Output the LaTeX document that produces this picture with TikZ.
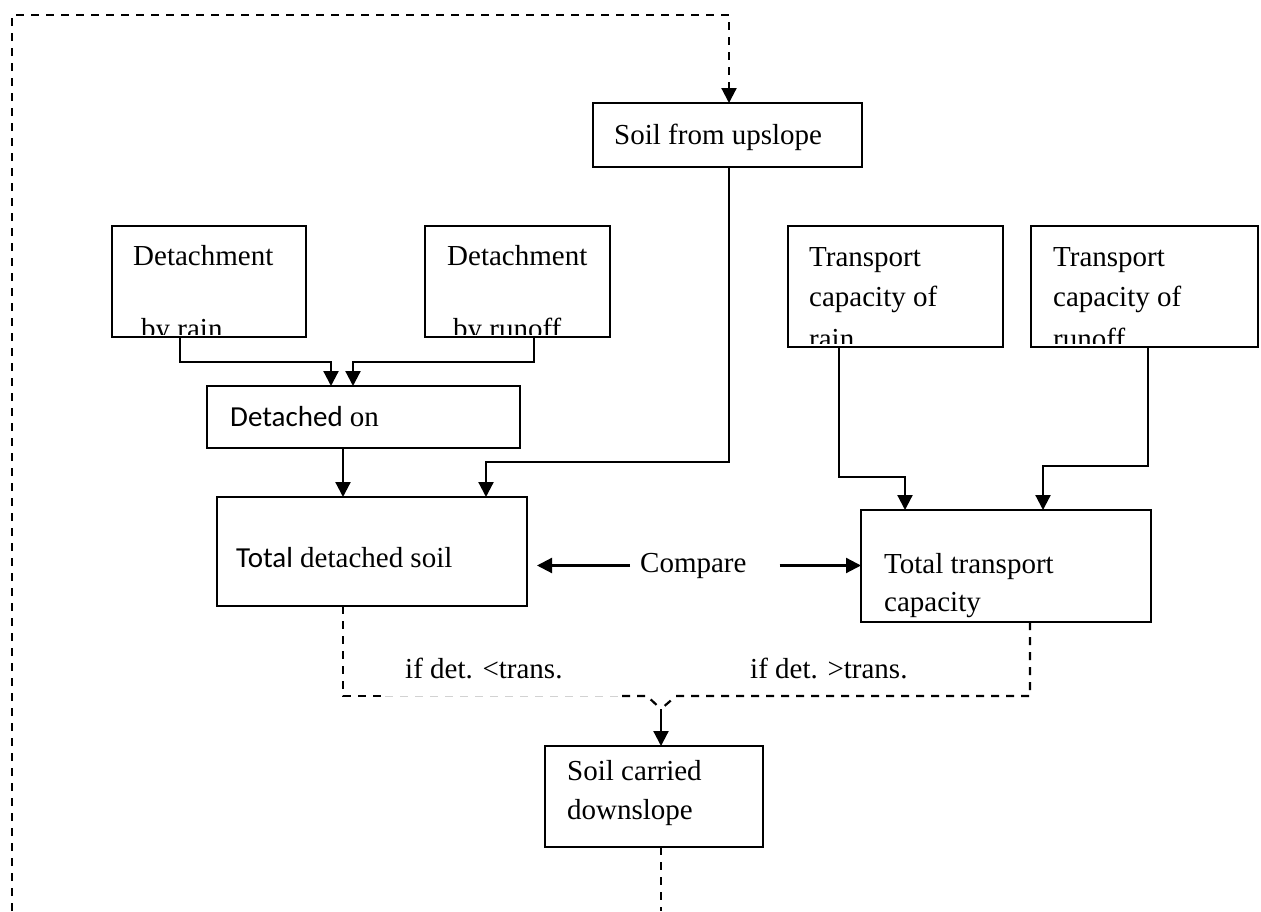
\documentclass[tikz,border=0pt]{standalone}
\usepackage{fontspec}
\setmainfont{Liberation Serif}
\newfontfamily\calib{Carlito}
\usetikzlibrary{arrows.meta,calc}
\tikzset{blk/.style = {draw, line width=2.2pt, outer sep=0pt, inner sep=0pt, anchor=north west},
  txt/.style = {inner sep=0pt, anchor=base west},
  arr/.style = {line width=2.2pt, -{Triangle[length=15pt,width=15pt]}},
  dsh/.style = {line width=2.2pt, dash pattern=on 8pt off 7pt}}

\begin{document}
\begin{tikzpicture}[x=1pt, y=-1pt, font=\fontsize{29}{35}\selectfont]
  \useasboundingbox (0,0) rectangle (1261,911);
  % boxes
  \node [blk, minimum width=269pt, minimum height=64pt] (up) at (593,103) {};
  \node [blk, minimum width=194pt, minimum height=111pt] (dr) at (112,226) {};
  \node [blk, minimum width=185pt, minimum height=111pt] (dro) at (425,226) {};
  \node [blk, minimum width=313pt, minimum height=62pt] (don) at (207,386) {};
  \node [blk, minimum width=310pt, minimum height=109pt] (tds) at (217,497) {};
  \node [blk, minimum width=215pt, minimum height=121pt] (trn) at (788,226) {};
  \node [blk, minimum width=227pt, minimum height=121pt] (tro) at (1031,226) {};
  \node [blk, minimum width=290pt, minimum height=112pt] (ttc) at (861,510) {};
  \node [blk, minimum width=218pt, minimum height=101pt] (scd) at (545,746) {};
  % texts
  \node [txt] (upt) at (614,144) {Soil from upslope};
  \node [txt] (dr1) at (133,265) {Detachment};
  \node [txt] (dro1) at (447,265) {Detachment};
  \begin{scope}
    \clip (dr.north west) rectangle ([yshift=3pt]dr.south east);
    \node [txt] (dr2) at (141,338) {by rain};
  \end{scope}
  \begin{scope}
    \clip (dro.north west) rectangle ([yshift=3pt]dro.south east);
    \node [txt] (dro2) at (453,338) {by runoff};
  \end{scope}
  \node [txt] (dont) at (230,426) {{\calib Detached} on};
  \node [txt] (tdst) at (236,567) {{\calib Total} detached soil};
  \node [txt] (cmp) at (640,572) {Compare};
  \node [txt] (trn1) at (809,266) {Transport};
  \node [txt] (trn2) at (809,306) {capacity of};
  \node [txt] (tro1) at (1053,266) {Transport};
  \node [txt] (tro2) at (1053,306) {capacity of};
  \begin{scope}
    \clip (trn.north west) rectangle ([yshift=4pt]trn.south east);
    \node [txt] (trn3) at (809,348) {rain};
  \end{scope}
  \begin{scope}
    \clip (tro.north west) rectangle ([yshift=4pt]tro.south east);
    \node [txt] (tro3) at (1053,348) {runoff};
  \end{scope}
  \node [txt] (ttc1) at (884,573) {Total transport};
  \node [txt] (ttc2) at (884,611) {capacity};
  \node [txt] (lt) at (405,678) {if det. <trans.};
  \node [txt] (gt) at (750,678) {if det. >trans.};
  \node [txt] (scd1) at (567,780) {Soil carried};
  \node [txt] (scd2) at (567,819) {downslope};
  % connectors
  \coordinate (loopbot) at (12,911);
  \coordinate (outbot) at (661,911);
  \draw [dsh, arr] (loopbot) |- ([xshift=1.5pt, yshift=88pt]up.north) -- ([xshift=1.5pt]up.north);
  \draw [dsh] (outbot |- scd.south) -- (outbot);
  \draw [arr] ([xshift=1.5pt]up.south) |- ([xshift=114pt, yshift=35pt]tds.north) -- ([xshift=114pt]tds.north);
  \draw [arr] ([xshift=-29pt]dr.south) |- ([xshift=-32.5pt, yshift=24pt]don.north) -- ([xshift=-32.5pt]don.north);
  \draw [arr] ([xshift=16.5pt]dro.south) |- ([xshift=-10.5pt, yshift=24pt]don.north) -- ([xshift=-10.5pt]don.north);
  \draw [arr] ([xshift=-20.5pt]don.south) -- ([xshift=-20.5pt]don.south |- tds.north);
  \draw [arr] ([xshift=-56.5pt]trn.south) |- ([xshift=-101pt, yshift=33pt]ttc.north) -- ([xshift=-101pt]ttc.north);
  \draw [arr] ([xshift=3.5pt]tro.south) |- ([xshift=37pt, yshift=44pt]ttc.north) -- ([xshift=37pt]ttc.north);
  \draw [arr] ([xshift=-10pt]cmp.west) -- ([xshift=10pt]cmp.west -| tds.east);
  \draw [arr] ([xshift=33pt]cmp.east) -- (cmp.east -| ttc.west);
  \coordinate (ml) at (647,696);
  \coordinate (mr) at (676,696);
  \coordinate (mrg) at (661,709);
  \draw [dsh] ([xshift=-29pt]tds.south) |- (385,696);
  \draw [dsh, gray!35, line width=1pt] (385,696) -- (622,696);
  \draw [dsh] (622,696) -- (ml) -- (mrg);
  \draw [dsh] ([xshift=24pt]ttc.south) |- (mr) -- (mrg);
  \draw [arr] (mrg) -- (mrg |- scd.north);
\end{tikzpicture}
\end{document}
